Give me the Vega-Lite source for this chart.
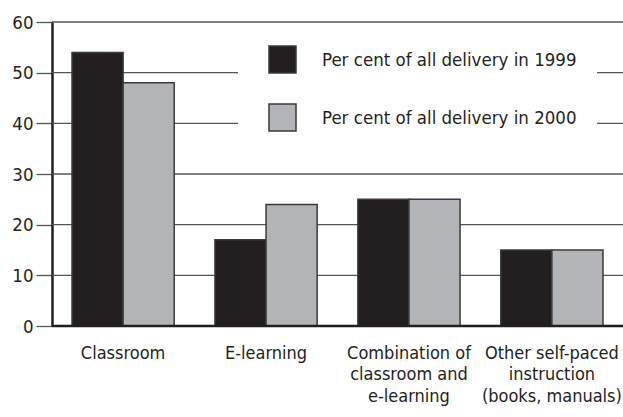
{
  "$schema": "https://vega.github.io/schema/vega-lite/v6.json",
  "width": 571,
  "height": 304,
  "autosize": {"type": "none"},
  "padding": {"left": 52, "top": 22, "right": 0, "bottom": 91},
  "background": "white",
  "config": {
    "view": {"stroke": null},
    "font": "DejaVu Sans Condensed",
    "axisY": {
      "values": [0, 10, 20, 30, 40, 50, 60],
      "title": null,
      "grid": false,
      "domain": true,
      "domainColor": "#231f20",
      "domainWidth": 2.5,
      "ticks": true,
      "tickSize": 16,
      "tickColor": "#555555",
      "tickWidth": 1.3,
      "labelFontSize": 18.5,
      "labelColor": "#231f20",
      "labelPadding": 3
    }
  },
  "datasets": {
    "bars": [
      {"category": "Classroom", "series": "Per cent of all delivery in 1999", "value": 54},
      {"category": "Classroom", "series": "Per cent of all delivery in 2000", "value": 48},
      {"category": "E-learning", "series": "Per cent of all delivery in 1999", "value": 17},
      {"category": "E-learning", "series": "Per cent of all delivery in 2000", "value": 24},
      {"category": "Combination of|classroom and|e-learning", "series": "Per cent of all delivery in 1999", "value": 25},
      {"category": "Combination of|classroom and|e-learning", "series": "Per cent of all delivery in 2000", "value": 25},
      {"category": "Other self-paced|instruction|(books, manuals)", "series": "Per cent of all delivery in 1999", "value": 15},
      {"category": "Other self-paced|instruction|(books, manuals)", "series": "Per cent of all delivery in 2000", "value": 15}
    ],
    "grid": [{"v": 10}, {"v": 20}, {"v": 30}, {"v": 40}, {"v": 50}, {"v": 60}],
    "base": [{"v": 0}]
  },
  "layer": [
    {
      "data": {"name": "grid"},
      "mark": {"type": "rule", "color": "#555555", "strokeWidth": 1.3},
      "encoding": {
        "y": {
          "field": "v",
          "type": "quantitative",
          "title": null,
          "scale": {"domain": [0, 60], "nice": false}
        }
      }
    },
    {
      "data": {"name": "bars"},
      "mark": {"type": "bar", "stroke": "#3a3a3a", "strokeWidth": 1.5},
      "encoding": {
        "x": {
          "field": "category",
          "type": "nominal",
          "sort": null,
          "scale": {"paddingInner": 0.285, "paddingOuter": 0.14},
          "axis": {
            "title": null,
            "domain": false,
            "ticks": false,
            "labelAngle": 0,
            "labelFontSize": 18,
            "labelColor": "#231f20",
            "labelPadding": 18,
            "labelLineHeight": 21.5,
            "labelLimit": 300,
            "labelExpr": "split(datum.label, '|')"
          }
        },
        "xOffset": {
          "field": "series",
          "type": "nominal",
          "scale": {"paddingInner": 0, "paddingOuter": 0}
        },
        "y": {"field": "value", "type": "quantitative", "title": null},
        "fill": {
          "field": "series",
          "type": "nominal",
          "scale": {"range": ["#231f20", "#b3b4b7"]},
          "legend": {
            "title": null,
            "orient": "none",
            "legendX": 186,
            "legendY": 3,
            "direction": "vertical",
            "fillColor": "white",
            "padding": 20,
            "symbolType": "square",
            "symbolSize": 729,
            "symbolStrokeColor": "#3a3a3a",
            "symbolStrokeWidth": 1.5,
            "symbolOffset": 10,
            "labelOffset": 25,
            "labelFontSize": 18.5,
            "labelColor": "#231f20",
            "labelLimit": 400,
            "rowPadding": 25
          }
        }
      }
    },
    {
      "data": {"name": "base"},
      "mark": {"type": "rule", "color": "#231f20", "strokeWidth": 2.5},
      "encoding": {
        "y": {"field": "v", "type": "quantitative", "title": null}
      }
    }
  ]
}
